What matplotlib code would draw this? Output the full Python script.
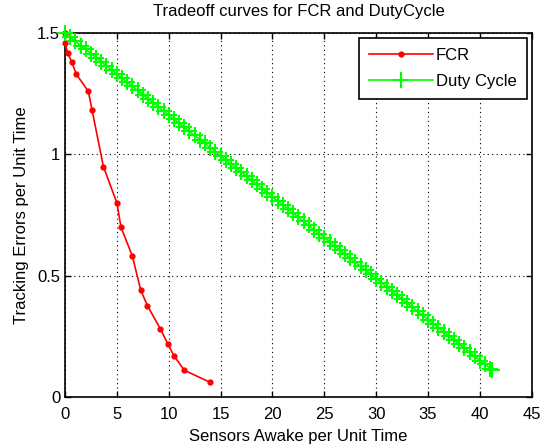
import matplotlib
matplotlib.use("Agg")
import matplotlib.pyplot as plt

plt.rcParams['font.family'] = ['Liberation Sans', 'DejaVu Sans']

# FCR tradeoff curve
fcr_x = [0.0, 0.0, 0.25, 0.65, 1.1, 2.25, 2.6, 3.7, 5.0, 5.4, 6.5, 7.3,
         7.95, 9.2, 9.9, 10.5, 11.5, 14.0]
fcr_y = [1.50, 1.46, 1.42, 1.38, 1.33, 1.26, 1.185, 0.95, 0.80, 0.70, 0.58,
         0.44, 0.376, 0.28, 0.22, 0.17, 0.11, 0.06]

# Duty cycle tradeoff curve
duty_x = [0.0, 0.5, 1.0, 1.5, 2.0, 2.5, 3.0, 3.5, 4.0, 4.5, 5.0, 5.5, 6.0,
          6.5, 7.0, 7.5, 8.0, 8.5, 9.0, 9.5, 10.0, 10.5, 11.0, 11.5, 12.0,
          12.5, 13.0, 13.5, 14.0, 14.5, 15.0, 15.5, 16.0, 16.5, 17.0, 17.5,
          18.0, 18.5, 19.0, 19.5, 20.0, 20.5, 21.0, 21.5, 22.0, 22.5, 23.0,
          23.5, 24.0, 24.5, 25.0, 25.5, 26.0, 26.5, 27.0, 27.5, 28.0, 28.5,
          29.0, 29.5, 30.0, 30.5, 31.0, 31.5, 32.0, 32.5, 33.0, 33.5, 34.0,
          34.5, 35.0, 35.5, 36.0, 36.5, 37.0, 37.5, 38.0, 38.5, 39.0, 39.5,
          40.0, 40.5, 41.0, 41.2]
duty_y = [1.500, 1.483, 1.466, 1.449, 1.433, 1.416, 1.399, 1.382, 1.365,
          1.348, 1.331, 1.314, 1.298, 1.281, 1.264, 1.247, 1.230, 1.213,
          1.196, 1.179, 1.163, 1.146, 1.129, 1.112, 1.095, 1.078, 1.061,
          1.045, 1.028, 1.011, 0.994, 0.977, 0.960, 0.943, 0.926, 0.910,
          0.893, 0.876, 0.859, 0.842, 0.825, 0.808, 0.791, 0.775, 0.758,
          0.741, 0.724, 0.707, 0.690, 0.673, 0.657, 0.640, 0.623, 0.606,
          0.589, 0.572, 0.555, 0.538, 0.522, 0.505, 0.488, 0.471, 0.454,
          0.437, 0.420, 0.403, 0.387, 0.370, 0.353, 0.336, 0.319, 0.302,
          0.285, 0.268, 0.252, 0.235, 0.218, 0.201, 0.184, 0.167, 0.150,
          0.134, 0.117, 0.110]

x_ticks = [0, 5, 10, 15, 20, 25, 30, 35, 40, 45]
y_ticks = [0, 0.5, 1, 1.5]
y_ticklabels = ['0', '0.5', '1', '1.5']


def main():
    fig = plt.figure(figsize=(5.44, 4.48), dpi=100)
    ax = fig.add_axes([0.1195, 0.114, 0.858, 0.812])

    ax.plot(fcr_x, fcr_y, color='#ff0000', marker='.', markersize=7,
            linewidth=1.2, label='FCR', clip_on=False, zorder=3)
    ax.plot(duty_x, duty_y, color='#00ff00', marker='+', markersize=12,
            markeredgewidth=1.5, linewidth=1.2, label='Duty Cycle',
            clip_on=False, zorder=3)

    ax.set_xlim(0, 45)
    ax.set_ylim(0, 1.5)
    ax.set_xticks(x_ticks)
    ax.set_yticks(y_ticks)
    ax.set_yticklabels(y_ticklabels)
    ax.grid(True, color='black', linestyle=(0, (1, 3)), linewidth=0.8)
    ax.tick_params(direction='in', top=True, right=True, labelsize=12,
                   length=4, width=1)
    ax.tick_params(axis='x', pad=7)
    for s in ax.spines.values():
        s.set_linewidth(1.2)

    ax.set_title('Tradeoff curves for FCR and DutyCycle', fontsize=12, pad=12)
    ax.set_xlabel('Sensors Awake per Unit Time', fontsize=12, labelpad=5)
    ax.set_ylabel('Tracking Errors per Unit Time', fontsize=12, labelpad=6)

    leg = ax.legend(loc='upper right', fontsize=12, fancybox=False,
                    framealpha=1, edgecolor='black', borderaxespad=0.3,
                    handlelength=3.8, labelspacing=0.65, borderpad=0.6,
                    handletextpad=0.2)
    leg.get_frame().set_linewidth(1.2)

    fig.savefig('out.png', dpi=100)


if __name__ == "__main__":
    main()
